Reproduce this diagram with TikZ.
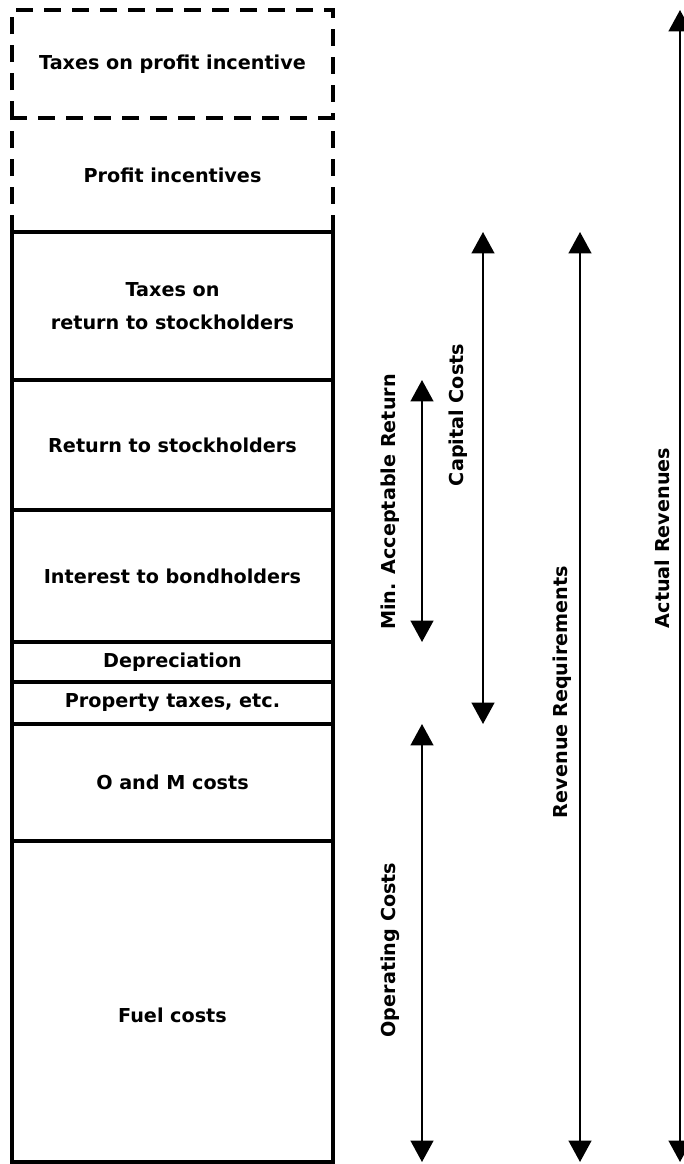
\documentclass[tikz,border=0pt]{standalone}
\usepackage{fontspec}
\setmainfont{DejaVu Sans}
\usetikzlibrary{positioning,arrows.meta}

\begin{document}
\begin{tikzpicture}[x=0.75pt,y=-0.75pt,node distance=0pt,
    every node/.style={font=\bfseries\fontsize{14.4}{25}\selectfont,align=center},
    box/.style={rectangle,draw=black,line width=2.4pt,outer sep=0pt,minimum width=240.75pt},
    dashbox/.style={black,line width=2.4pt,dash pattern=on 13pt off 8pt},
    span/.style={{Triangle[width=17pt,length=16pt]}-{Triangle[width=17pt,length=16pt]},line width=1.6pt},
    tag/.style={rotate=90}]
  \useasboundingbox (0,0) rectangle (684,1164);

  % the stack of cost blocks
  \node[box,draw=none,minimum height=81pt,anchor=north] (ptax) at (172.5,10) {Taxes on profit incentive};
  \node[box,draw=none,minimum height=85.5pt,below=of ptax] (pinc) {Profit incentives};
  \node[box,minimum height=111pt,below=of pinc] (rtax) {Taxes on\\return to stockholders};
  \node[box,minimum height=97.5pt,below=of rtax] (ret) {Return to stockholders};
  \node[box,minimum height=99pt,below=of ret] (int) {Interest to bondholders};
  \node[box,minimum height=30pt,below=of int] (dep) {Depreciation};
  \node[box,minimum height=31.5pt,below=of dep] (prop) {Property taxes, etc.};
  \node[box,minimum height=87.75pt,below=of prop] (om) {O and M costs};
  \node[box,minimum height=240.75pt,text height=31pt,text depth=0pt,below=of om] (fuel) {Fuel costs};

  \draw[dashbox] (ptax.south west) -- (ptax.north west) -- (ptax.north east) -- (ptax.south east);
  \draw[dashbox] (pinc.south west) -- (pinc.north west) -- (pinc.north east) -- (pinc.south east);

  % columns of the spans
  \coordinate (colmin) at (422,0);
  \coordinate (colcap) at (483,0);
  \coordinate (colrev) at (580,0);
  \coordinate (colact) at (680,0);

  \draw[span] (ret.north -| colmin) -- (int.south -| colmin);
  \draw[span] (rtax.north -| colcap) -- (prop.south -| colcap);
  \draw[span] (prop.south -| colmin) -- (fuel.south -| colmin);
  \draw[span] (rtax.north -| colrev) -- (fuel.south -| colrev);
  \draw[span] (ptax.north -| colact) -- (fuel.south -| colact);

  \node[tag] (minlbl) at (390,502) {Min. Acceptable Return};
  \node[tag] (caplbl) at (458,415) {Capital Costs};
  \node[tag] (oplbl) at (390,950) {Operating Costs};
  \node[tag] (revlbl) at (562,692) {Revenue Requirements};
  \node[tag] (actlbl) at (662,538) {Actual Revenues};
\end{tikzpicture}
\end{document}
